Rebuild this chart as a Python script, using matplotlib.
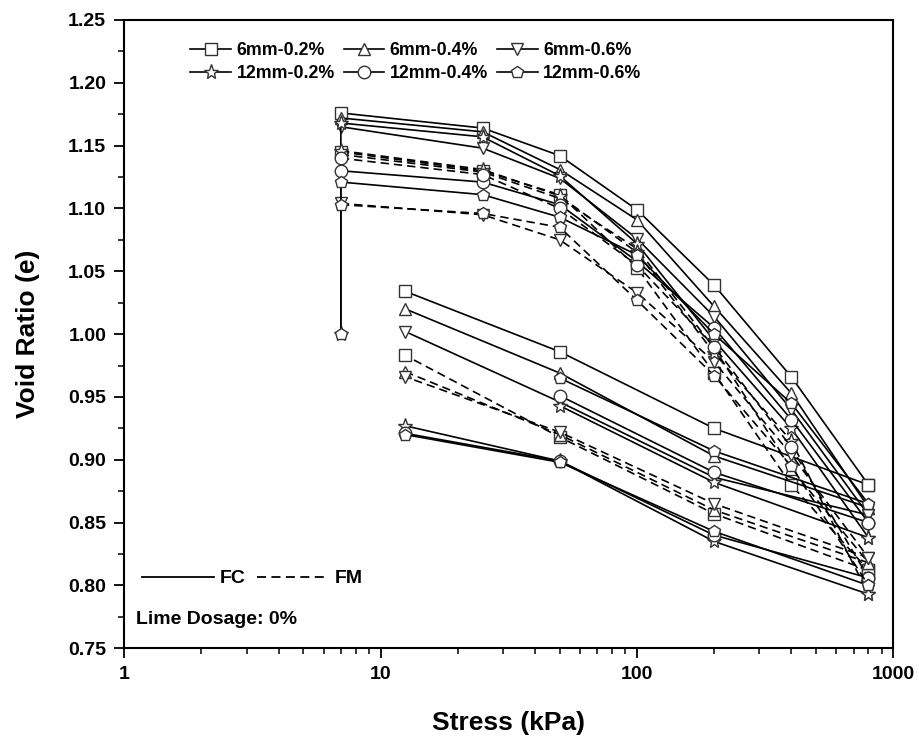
import matplotlib
matplotlib.use("Agg")
import matplotlib.pyplot as plt
from matplotlib.lines import Line2D
from matplotlib.ticker import FixedLocator, LogLocator, MultipleLocator, NullFormatter

# Oedometer results, lime dosage 0 %
labels = ["6mm-0.2%", "6mm-0.4%", "6mm-0.6%", "12mm-0.2%", "12mm-0.4%", "12mm-0.6%"]
markers = ["s", "^", "v", "*", "o", "p"]

load_stress = [7, 25, 50, 100, 200, 400, 800]
unload_stress = [800, 200, 50, 12.5]

# seating reading at 7 kPa before the first load step
seat_stress = 7
seat_e = 1.00
seated = ["12mm-0.2%", "12mm-0.6%"]

fc_load = [
    [1.176, 1.164, 1.142, 1.099, 1.039, 0.966, 0.880],
    [1.172, 1.161, 1.131, 1.091, 1.022, 0.953, 0.862],
    [1.165, 1.148, 1.124, 1.076, 1.014, 0.940, 0.856],
    [1.168, 1.157, 1.126, 1.072, 0.995, 0.925, 0.838],
    [1.130, 1.121, 1.103, 1.058, 1.005, 0.932, 0.850],
    [1.121, 1.111, 1.093, 1.063, 1.000, 0.945, 0.865],
]
# unloading readings from 200 kPa down (800 kPa is the last load step)
fc_unload = [
    [0.925, 0.986, 1.034],
    [0.903, 0.969, 1.020],
    [0.886, 0.946, 1.002],
    [0.882, 0.943],
    [0.890, 0.951],
    [0.907, 0.965],
]
fm_load = [
    [1.145, 1.130, 1.111, 1.053, 0.969, 0.880, 0.812],
    [1.143, 1.129, 1.108, 1.068, 0.989, 0.893, 0.818],
    [1.104, 1.095, 1.075, 1.033, 0.978, 0.904, 0.822],
    [1.146, 1.131, 1.110, 1.065, 0.985, 0.915, 0.793],
    [1.140, 1.127, 1.100, 1.055, 0.990, 0.910, 0.806],
    [1.103, 1.096, 1.085, 1.027, 0.967, 0.895, 0.800],
]
fm_unload = [
    [0.857, 0.918, 0.983],
    [0.860, 0.920, 0.970],
    [0.865, 0.922, 0.966],
    [0.835, 0.899, 0.927],
    [0.840, 0.899, 0.921],
    [0.843, 0.898, 0.920],
]
# in the source figure the 12 mm FM rebound branches are drawn solid
fm_unload_ls = ["--", "--", "--", "-", "-", "-"]

plt.rcParams["font.family"] = ["Liberation Sans", "DejaVu Sans"]
plt.rcParams["font.weight"] = "bold"

fig = plt.figure(figsize=(9.2, 7.4), dpi=100)
ax = fig.add_axes([0.135, 0.124, 0.836, 0.849])

DASH = (5, 3)


def draw(xs, ys, ls, mk):
    ms = 11 if mk == "*" else 9
    kw = dict(color="black", lw=1.2, marker=mk, ms=ms, mfc="white", mec="#333333", mew=1.0)
    if ls == "--":
        kw["dashes"] = DASH
    ax.plot(xs, ys, ls=ls, **kw)


for i in range(len(labels)):
    mk = markers[i]
    # FC
    xs, ys = list(load_stress), list(fc_load[i])
    if labels[i] in seated:
        xs, ys = [seat_stress] + xs, [seat_e] + ys
    draw(xs, ys, "-", mk)
    n = len(fc_unload[i]) + 1
    draw(unload_stress[:n], [fc_load[i][-1]] + fc_unload[i], "-", mk)
    # FM
    draw(load_stress, fm_load[i], "--", mk)
    n = len(fm_unload[i]) + 1
    draw(unload_stress[:n], [fm_load[i][-1]] + fm_unload[i], fm_unload_ls[i], mk)

ax.set_xscale("log")
ax.set_xlim(1, 1000)
ax.set_ylim(0.75, 1.25)
ax.xaxis.set_major_locator(FixedLocator([1, 10, 100, 1000]))
ax.set_xticklabels(["1", "10", "100", "1000"])
ax.xaxis.set_minor_locator(LogLocator(base=10, subs=range(2, 10)))
ax.xaxis.set_minor_formatter(NullFormatter())
ax.yaxis.set_major_locator(MultipleLocator(0.05))
ax.yaxis.set_minor_locator(MultipleLocator(0.025))
ax.yaxis.set_major_formatter(plt.FuncFormatter(lambda v, p: f"{v:.2f}"))
ax.tick_params(which="major", direction="out", length=7, width=1.3, labelsize=14, pad=6)
ax.tick_params(which="minor", direction="out", length=4, width=1.1)
for s in ax.spines.values():
    s.set_linewidth(1.5)

ax.set_xlabel("Stress (kPa)", fontsize=19, fontweight="bold", labelpad=20)
ax.set_ylabel("Void Ratio (e)", fontsize=19, fontweight="bold", labelpad=20)

# legend filled row by row (matplotlib fills columns first)
order = [0, 3, 1, 4, 2, 5]
handles = [Line2D([], [], color="black", lw=1.2, marker=markers[k],
                  ms=(11 if markers[k] == "*" else 9),
                  mfc="white", mec="#333333", mew=1.0) for k in order]
leg1 = ax.legend(handles, [labels[k] for k in order], ncol=3, loc="upper left",
                 bbox_to_anchor=(0.065, 0.99), frameon=False, fontsize=12.8,
                 handlelength=2.3, handletextpad=0.3, columnspacing=0.5, labelspacing=0.35)
ax.add_artist(leg1)

style_handles = [Line2D([], [], color="black", lw=1.3),
                 Line2D([], [], color="black", lw=1.3, ls="--", dashes=(5, 3))]
ax.legend(style_handles, ["FC", "FM"], ncol=2, loc="center left", bbox_to_anchor=(0.0, 0.111),
          frameon=False, fontsize=14, handlelength=3.7, handletextpad=0.3, columnspacing=0.6)

ax.text(0.015, 0.045, "Lime Dosage: 0%", transform=ax.transAxes, fontsize=14,
        fontweight="bold", va="center")

fig.savefig("out.png", dpi=100)
